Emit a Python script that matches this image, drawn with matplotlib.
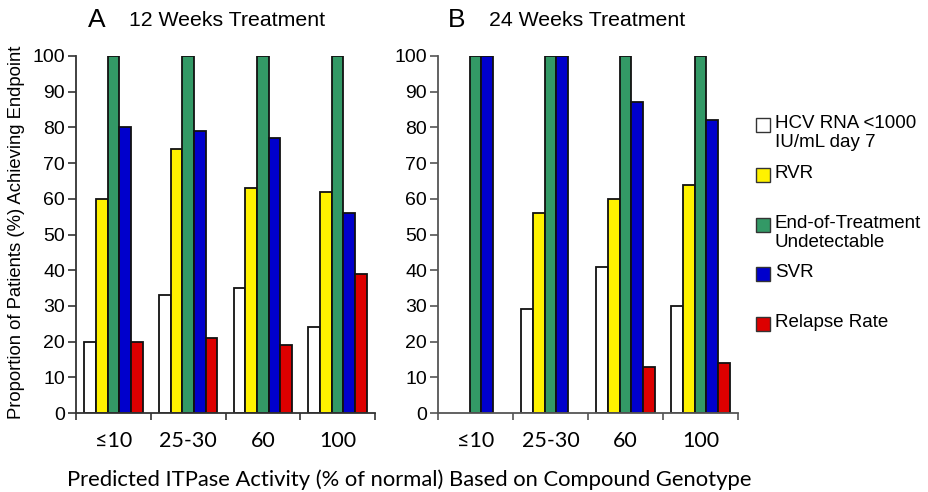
import numpy as np
import matplotlib
matplotlib.use("Agg")
import matplotlib.pyplot as plt
from matplotlib.patches import Rectangle

categories = ["≤10", "25-30", "60", "100"]
series_names = ["HCV RNA <1000\nIU/mL day 7", "RVR", "End-of-Treatment\nUndetectable", "SVR", "Relapse Rate"]
colors = ["#FFFFFF", "#FFF200", "#339966", "#0000CC", "#DD0000"]

# 12 weeks treatment
w12_hcv = [20, 33, 35, 24]
w12_rvr = [60, 74, 63, 62]
w12_eot = [100, 100, 100, 100]
w12_svr = [80, 79, 77, 56]
w12_relapse = [20, 21, 19, 39]

# 24 weeks treatment (nan = not shown)
w24_hcv = [np.nan, 29, 41, 30]
w24_rvr = [np.nan, 56, 60, 64]
w24_eot = [100, 100, 100, 100]
w24_svr = [100, 100, 87, 82]
w24_relapse = [np.nan, np.nan, 13, 14]

yticks = [0, 10, 20, 30, 40, 50, 60, 70, 80, 90, 100]

W, H = 929, 492
plt.rcParams['font.family'] = ['Liberation Sans', 'DejaVu Sans']
fig = plt.figure(figsize=(W / 100, H / 100), dpi=100)
narrow = ['Lato', 'Liberation Sans', 'DejaVu Sans']
arial = ['Liberation Sans', 'DejaVu Sans']

bottom = 1 - 413 / H
top = 1 - 56 / H
axA = fig.add_axes([76 / W, bottom, 299 / W, top - bottom])
axB = fig.add_axes([438 / W, bottom, 300 / W, top - bottom])

bw = 0.156
x = np.arange(len(categories)) + 0.5

def draw(ax, data, spine_col):
    for i, (vals, c) in enumerate(zip(data, colors)):
        v = np.array(vals, dtype=float)
        ax.bar(x + (i - 2) * bw, v, width=bw, color=c, edgecolor="#111111", linewidth=1.3, zorder=3)
    ax.set_xlim(0, 4)
    ax.set_ylim(0, 100)
    ax.set_yticks(yticks)
    ax.set_yticklabels([str(t) for t in yticks], fontsize=14, family=arial)
    ax.set_xticks(np.arange(0, 5))
    ax.set_xticklabels([])
    ax.set_xticks(x, minor=True)
    ax.set_xticklabels(categories, minor=True, fontsize=15.5, family=narrow)
    ax.tick_params(axis="x", which="minor", length=0, pad=13)
    ax.tick_params(axis="x", which="major", length=5, width=1.2, color=spine_col, direction="out")
    ax.tick_params(axis="y", length=6, width=1.2, color=spine_col, direction="out", pad=2)
    for s in ["top", "right"]:
        ax.spines[s].set_visible(False)
    for s in ["left", "bottom"]:
        ax.spines[s].set_color(spine_col)
        ax.spines[s].set_linewidth(1.3)
    ax.spines["bottom"].set_zorder(4)

draw(axA, [w12_hcv, w12_rvr, w12_eot, w12_svr, w12_relapse], "#333333")
draw(axB, [w24_hcv, w24_rvr, w24_eot, w24_svr, w24_relapse], "#555555")

# Titles
fig.text(88 / W, 1 - 20 / H, "A", fontsize=19, va="center", ha="left", family=arial)
fig.text(129 / W, 1 - 20 / H, "12 Weeks Treatment", fontsize=15.3, va="center", ha="left", family=arial)
fig.text(448 / W, 1 - 20 / H, "B", fontsize=19, va="center", ha="left", family=arial)
fig.text(489 / W, 1 - 20 / H, "24 Weeks Treatment", fontsize=15.3, va="center", ha="left", family=arial)

# Axis labels
fig.text(17 / W, 1 - 232 / H, "Proportion of Patients (%) Achieving Endpoint", rotation=90,
         fontsize=13.3, va="center", ha="center", family=arial)
fig.text(409 / W, 1 - 480 / H, "Predicted ITPase Activity (% of normal) Based on Compound Genotype",
         fontsize=15.8, va="center", ha="center", family=narrow)

# Legend
leg_y = [125, 175, 225, 274, 324]
for name, c, yy in zip(series_names, colors, leg_y):
    fig.patches.append(Rectangle(((756) / W, 1 - (yy + 7) / H), 14 / W, 14 / H,
                                 transform=fig.transFigure, facecolor=c,
                                 edgecolor="#333333", linewidth=1.0))
    fig.text(775 / W, 1 - (yy - 10) / H, name, fontsize=13.5, va="top", ha="left",
             linespacing=1.15, family=arial)

fig.savefig("out.png", dpi=100)
